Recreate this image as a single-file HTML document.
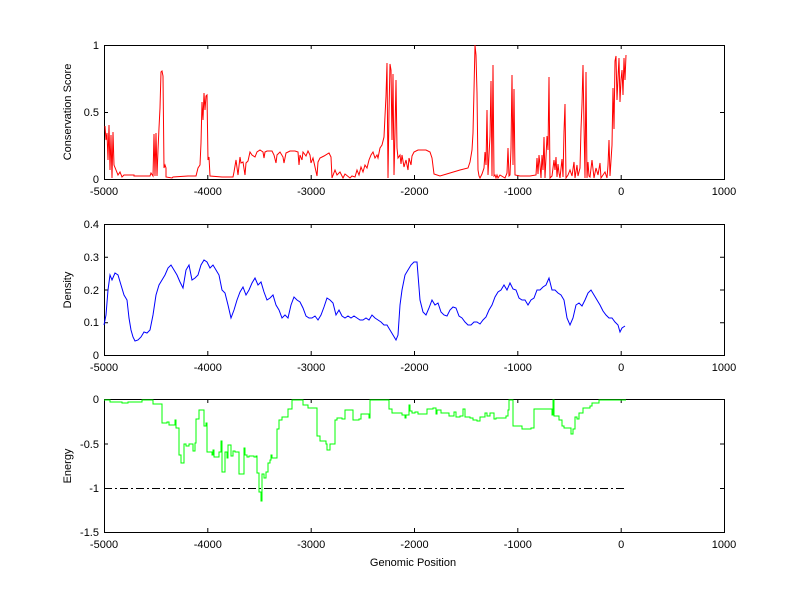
<!DOCTYPE html>
<html><head><meta charset="utf-8"><style>html,body{margin:0;padding:0;background:#fff}svg{display:block}text{font-family:"Liberation Sans",sans-serif;font-size:11px;fill:#000}</style></head><body>
<svg width="800" height="599" viewBox="0 0 800 599" xmlns="http://www.w3.org/2000/svg">
<rect width="800" height="599" fill="#fff"/>
<g fill="none" stroke="#000" stroke-width="1">
<rect x="104.5" y="45.5" width="620" height="134"/>
<rect x="104.5" y="224.5" width="620" height="131"/>
<rect x="104.5" y="399.5" width="620" height="133"/>
<path d="M207.8,45v4M311.2,45v4M414.5,45v4M517.8,45v4M621.2,45v4M207.8,179v-4M311.2,179v-4M414.5,179v-4M517.8,179v-4M621.2,179v-4
M207.8,224v4M311.2,224v4M414.5,224v4M517.8,224v4M621.2,224v4M207.8,355v-4M311.2,355v-4M414.5,355v-4M517.8,355v-4M621.2,355v-4
M207.8,399v4M311.2,399v4M414.5,399v4M517.8,399v4M621.2,399v4M207.8,532v-4M311.2,532v-4M414.5,532v-4M517.8,532v-4M621.2,532v-4
M104,112.5h4M724,112.5h-4M104,257.2h4M104,290h4M104,322.7h4M724,257.2h-4M724,290h-4M724,322.7h-4M104,444h4M104,488.5h4M724,444h-4M724,488.5h-4"/>
</g>
<g text-anchor="end">
<text x="99" y="49">1</text><text x="99" y="116">0.5</text><text x="99" y="183">0</text>
<text x="99" y="228">0.4</text><text x="99" y="261">0.3</text><text x="99" y="294">0.2</text><text x="99" y="326">0.1</text><text x="99" y="359">0</text>
<text x="99" y="403">0</text><text x="99" y="448">-0.5</text><text x="99" y="492">-1</text><text x="99" y="536">-1.5</text>
</g>
<g text-anchor="middle">
<text x="104" y="195">-5000</text><text x="207.8" y="195">-4000</text><text x="311.2" y="195">-3000</text><text x="414.5" y="195">-2000</text><text x="517.8" y="195">-1000</text><text x="621.2" y="195">0</text><text x="724" y="195">1000</text>
<text x="104" y="371">-5000</text><text x="207.8" y="371">-4000</text><text x="311.2" y="371">-3000</text><text x="414.5" y="371">-2000</text><text x="517.8" y="371">-1000</text><text x="621.2" y="371">0</text><text x="724" y="371">1000</text>
<text x="104" y="548">-5000</text><text x="207.8" y="548">-4000</text><text x="311.2" y="548">-3000</text><text x="414.5" y="548">-2000</text><text x="517.8" y="548">-1000</text><text x="621.2" y="548">0</text><text x="724" y="548">1000</text>
<text x="413" y="566">Genomic Position</text>
<text transform="translate(71,112) rotate(-90)">Conservation Score</text>
<text transform="translate(71,290) rotate(-90)">Density</text>
<text transform="translate(71,466) rotate(-90)">Energy</text>
</g>
<polyline fill="none" stroke="#f00" stroke-width="1" points="105,126 106,140 107,133 108,160 109,125 110,170 111,135 112,178 113,132 114,165 116,170 118,175 120,172 122,177 124,175 134,175 134,176 150,176 151,173 153,176 154,134 155,176 156,133 157,176 158,150 159,128 160,108 161,72 162,71 163,76 164,168 165,165 166,168 166,177 172,178 173,177 188,176 196,176 197,172 198,168 200,165 201,143 202,102 203,120 204,93 205,110 206,96 207,95 208,160 209,157 210,176 222,177 233,177 234,172 236,160 238,175 240,157 241,163 243,162 245,175 246,163 248,161 250,152 252,155 255,157 257,152 260,150 263,152 264,158 265,152 267,151 272,151 274,155 276,163 277,155 280,152 283,157 284,163 286,153 290,151 295,151 298,152 299,165 300,155 302,160 303,152 306,156 308,151 310,155 311,163 313,158 315,167 317,176 318,162 320,158 324,156 329,153 331,157 332,178 335,170 337,175 340,172 343,178 345,174 350,178 352,176 355,177 357,170 359,175 361,167 363,172 365,165 367,168 369,160 371,155 373,152 375,158 377,155 378,158 380,148 382,145 384,137 385,116 386,96 387,63 388,178 389,112 390,64 391,70 392,140 393,74 394,175 395,133 396,80 397,148 398,158 400,155 401,164 402,155 404,167 406,160 408,170 409,158 411,165 412,156 414,152 418,150 426,150 430,152 432,158 434,174 440,176 450,173 460,170 468,168 470,162 472,150 473,133 474,90 475,45 476,55 477,93 478,170 479,176 480,178 482,174 484,168 485,152 486,165 487,110 488,175 490,136 491,81 492,176 493,65 494,176 495,175 496,178 497,175 498,178 500,175 505,178 507,173 508,148 509,176 510,175 511,148 512,75 513,165 514,89 515,175 520,176 530,176 536,175 537,158 538,174 539,155 540,165 541,178 542,155 543,170 544,137 545,178 547,136 548,150 549,77 550,178 552,176 554,160 555,170 556,157 557,177 558,164 559,173 560,178 562,159 563,177 564,132 565,104 566,178 568,175 570,170 572,176 574,162 575,178 577,165 578,176 580,168 581,129 582,104 583,65 584,125 585,178 586,72 587,178 588,162 589,176 590,177 592,160 594,178 596,168 598,175 600,163 601,178 603,175 605,172 607,178 608,165 609,140 610,176 612,145 613,88 614,129 615,61 616,56 617,100 618,78 619,58 620,102 621,80 622,70 623,95 624,58 625,80 626,55"/>
<polyline fill="none" stroke="#00f" stroke-width="1" points="104,325 106,315 108,290 110,275 112,280 115,273 118,275 121,285 124,295 127,300 129,318 131,330 133,337 135,341 138,340 141,337 144,332 147,333 150,330 153,315 156,295 159,285 162,280 165,275 168,268 171,265 174,270 177,275 180,282 183,288 186,270 189,265 192,280 195,278 198,275 201,265 204,260 207,262 210,268 213,265 216,270 219,275 222,290 225,293 228,305 231,318 234,310 237,300 240,292 243,287 246,295 249,290 252,283 255,278 258,285 261,282 264,292 267,300 270,298 273,295 276,305 279,310 282,318 285,315 288,318 291,305 294,297 297,300 300,302 303,308 306,316 309,318 312,318 315,316 318,320 321,315 324,307 327,298 330,300 333,303 336,315 339,310 342,316 345,318 348,316 351,318 354,316 357,318 360,320 363,320 366,318 369,320 372,315 375,318 378,320 381,322 384,325 387,325 390,330 393,335 396,340 398,335 400,305 402,290 405,275 408,270 411,265 414,262 417,262 420,300 423,312 426,315 429,308 432,300 435,305 438,303 441,312 444,315 447,316 450,310 453,307 456,308 459,316 462,318 465,322 468,325 471,325 474,322 477,322 480,324 483,320 486,317 489,310 492,305 495,297 498,292 501,290 504,285 507,290 510,283 513,289 516,290 519,298 522,300 525,300 528,305 531,300 534,298 537,290 540,290 543,287 546,285 549,278 552,290 555,290 558,293 561,295 564,300 567,318 570,325 573,318 576,305 579,303 582,306 585,300 588,293 591,290 594,295 597,300 600,305 603,311 606,315 609,318 612,318 615,322 618,325 620,332 622,328 625,326"/>
<path fill="none" stroke="#000" stroke-width="1" stroke-dasharray="8,3,2,3" d="M104,488.5H626"/>
<path fill="none" stroke="#0f0" stroke-width="1" d="M104,400 H110 V402 H122 V403 H128 V402 H142 V400 H153 V404 H162 V423 H167 V422 H169 V425 H175 V420 H176 V428 H179 V455 H181 V463 H184 V444 H186 V446 H189 V444 H193 V451 H195 V443 H196 V419 H199 V410 H204 V426 H206 V423 H207 V452 H212 V455 H213 V450 H214 V457 H219 V452 H221 V441 H222 V472 H225 V452 H227 V458 H228 V445 H231 V456 H233 V451 H235 V452 H239 V474 H244 V448 H245 V455 H247 V457 H249 V456 H254 V457 H256 V456 H257 V473 H259 V492 H261 V501 H262 V474 H264 V478 H266 V472 H268 V463 H270 V460 H271 V455 H272 V458 H277 V429 H279 V420 H282 V417 H288 V409 H292 V400 H303 V405 H308 V408 H317 V436 H320 V441 H326 V444 H327 V450 H330 V444 H335 V420 H337 V418 H342 V419 H345 V410 H353 V420 H359 V419 H361 V414 H369 V418 H370 V400 H389 V409 H392 V413 H402 V415 H405 V418 H406 V415 H409 V405 H410 V411 H412 V413 H415 V412 H418 V414 H420 V414 H427 V409 H433 V408 H436 V414 H437 V410 H441 V413 H449 V416 H454 V412 H456 V417 H460 V416 H463 V409 H465 V417 H470 V418 H473 V420 H477 V421 H480 V417 H485 V413 H487 V416 H490 V413 H494 V419 H496 V418 H506 V416 H508 V410 H509 V400 H513 V426 H522 V429 H531 V428 H534 V409 H552 V415 H553 V400 H554 V416 H559 V420 H562 V426 H564 V428 H571 V434 H573 V429 H575 V417 H577 V419 H579 V413 H583 V408 H590 V406 H592 V403 H599 V400 H626"/>
</svg>
</body></html>
